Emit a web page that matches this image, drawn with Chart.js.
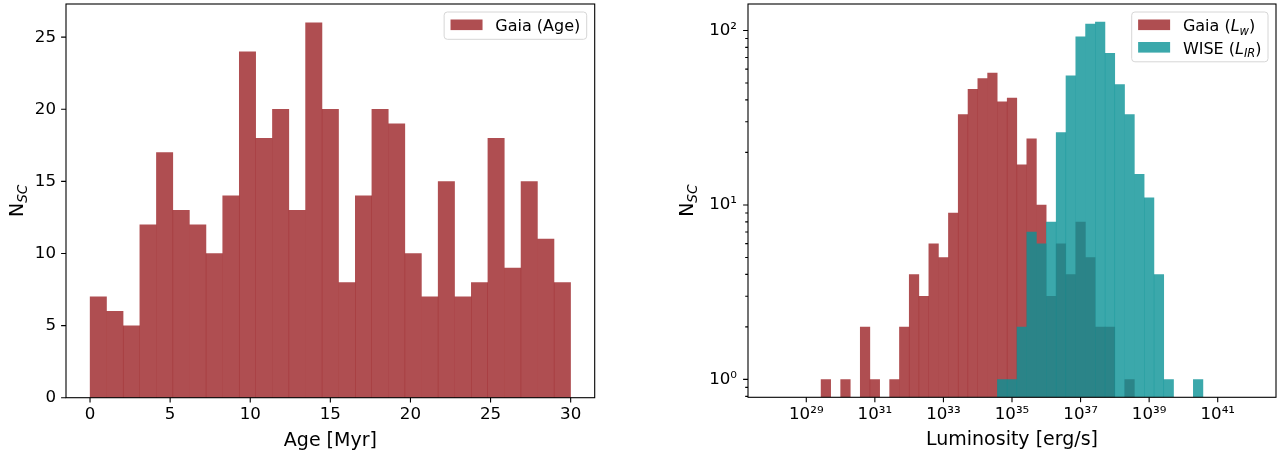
<!DOCTYPE html>
<html lang="en">
<head>
<meta charset="UTF-8">
<title>Star cluster histograms</title>
<script src="https://cdn.jsdelivr.net/npm/chart.js"></script>
<style>
  html, body { margin: 0; padding: 0; background: #fff; }
  #wrap { position: relative; width: 1284px; height: 455px; }
  canvas { position: absolute; top: 0; }
  #ageChart { left: 0; }
  #lumChart { left: 640px; }
</style>
</head>
<body>
<div id="wrap">
  <canvas id="ageChart" width="640" height="455"></canvas>
  <canvas id="lumChart" width="644" height="455"></canvas>
</div>
<script>
// left panel: cluster ages, 29 equal bins between 0 and 30 Myr
var ageRange = [0, 30];
var ageCounts = [7, 6, 5, 12, 17, 13, 12, 10, 14, 24, 18, 20, 13, 26, 20, 8, 14, 20, 19, 10, 7, 15, 7, 8, 18, 9, 15, 11, 8];
var ageTicks = [0, 5, 10, 15, 20, 25, 30];
var countTicks = [0, 5, 10, 15, 20, 25];

// right panel: log10 luminosity, 49 equal bins between 10^28 and 10^42
var lumRange = [28, 42];
var gaiaCounts = [0, 0, 0, 0, 0, 1, 0, 1, 0, 2, 1, 0, 1, 2, 4, 3, 6, 5, 9, 33, 46, 53, 57, 39, 41, 17, 24, 10, 3, 6, 4, 8, 5, 2, 2, 0, 1,
                  0, 0, 0, 0, 0, 0, 0, 0, 0, 0, 0, 0];
var wiseCounts = [0, 0, 0, 0, 0, 0, 0, 0, 0, 0, 0, 0, 0, 0, 0, 0, 0, 0, 0, 0, 0, 0, 0,
                  1, 1, 2, 7, 6, 8, 26, 55, 92, 109, 112, 74, 49, 33, 15, 11, 4, 1, 0, 0, 1,
                  0, 0, 0, 0, 0];
var lumTicks = [29, 31, 33, 35, 37, 39, 41];
var logMajor = [1, 10, 100];
var logMinor = [0.8, 0.9, 2, 3, 4, 5, 6, 7, 8, 9, 20, 30, 40, 50, 60, 70, 80, 90];

var gaiaColor = 'rgba(155, 34, 38, 0.8)';
var wiseColor = 'rgba(10, 146, 150, 0.8)';
var FONT = '"DejaVu Sans"';
var supDigits = '⁰¹²³⁴⁵⁶⁷⁸⁹';

Chart.defaults.font.family = FONT;
Chart.defaults.color = '#000';

function toPoints(range, counts) {
    var w = (range[1] - range[0]) / counts.length;
    var pts = [];
    counts.forEach(function (c, i) {
        if (c > 0) pts.push({ x: range[0] + w * (i + 0.5), y: c });
    });
    return pts;
}

function pow10Label(n) {
    return '10' + String(n).split('').map(function (d) { return supDigits[+d]; }).join('');
}

// text with italic / subscript pieces, drawn on the canvas
function partFont(p, size) {
    return (p.it ? 'italic ' : '') + (p.sub ? size * 0.72 : size) + 'px ' + FONT;
}
function drawRich(ctx, parts, x, y, size, align) {
    var w = 0;
    parts.forEach(function (p) { ctx.font = partFont(p, size); w += ctx.measureText(p.t).width; });
    var cx = align === 'center' ? x - w / 2 : x;
    parts.forEach(function (p) {
        ctx.font = partFont(p, size);
        ctx.fillText(p.t, cx, y + (p.sub ? size * 0.22 : 0));
        cx += ctx.measureText(p.t).width;
    });
    return w;
}
function richWidth(ctx, parts, size) {
    var w = 0;
    parts.forEach(function (p) { ctx.font = partFont(p, size); w += ctx.measureText(p.t).width; });
    return w;
}

// frame, tick marks, axis titles and legend in matplotlib style
var panelDecor = {
    id: 'panelDecor',
    afterDraw: function (chart, args, opts) {
        var ctx = chart.ctx, a = chart.chartArea;
        ctx.save();
        ctx.strokeStyle = '#000';
        ctx.lineWidth = 1.1;
        var xs = chart.scales.x, ys = chart.scales.y;
        ctx.beginPath();
        xs.ticks.forEach(function (t) {
            var px = xs.getPixelForValue(t.value);
            ctx.moveTo(px, a.bottom);
            ctx.lineTo(px, a.bottom + (t.minor ? 2.8 : 4.9));
        });
        ys.ticks.forEach(function (t) {
            var py = ys.getPixelForValue(t.value);
            ctx.moveTo(a.left, py);
            ctx.lineTo(a.left - (t.minor ? 2.8 : 4.9), py);
        });
        ctx.stroke();
        ctx.strokeRect(a.left, a.top, a.right - a.left, a.bottom - a.top);

        ctx.fillStyle = '#000';
        ctx.textBaseline = 'alphabetic';
        drawRich(ctx, opts.xTitle, (a.left + a.right) / 2, a.bottom + 48, 19, 'center');
        ctx.save();
        ctx.translate(a.left - opts.yTitleGap, (a.top + a.bottom) / 2);
        ctx.rotate(-Math.PI / 2);
        drawRich(ctx, opts.yTitle, 0, 0, 19, 'center');
        ctx.restore();

        // legend box
        var fs = 16, pad = 6.4, handle = 32, textPad = 12.8, rowH = 14.5, rowGap = 8;
        var tw = 0;
        opts.legend.forEach(function (it) { tw = Math.max(tw, richWidth(ctx, it.parts, fs)); });
        var bw = pad + handle + textPad + tw + pad;
        var bh = pad * 2 + opts.legend.length * rowH + (opts.legend.length - 1) * rowGap;
        var bx = a.right - 8 - bw, by = a.top + 8;
        ctx.beginPath();
        ctx.roundRect(bx, by, bw, bh, 3.2);
        ctx.fillStyle = 'rgba(255,255,255,0.8)';
        ctx.fill();
        ctx.strokeStyle = '#d6d6d6';
        ctx.lineWidth = 1;
        ctx.stroke();
        opts.legend.forEach(function (it, i) {
            var cy = by + 12.8 + i * (rowH + rowGap);
            ctx.fillStyle = it.color;
            ctx.fillRect(bx + pad, cy - 5.3, handle, 10.6);
            ctx.fillStyle = '#000';
            drawRich(ctx, it.parts, bx + pad + handle + textPad, cy + 6.3, fs, 'left');
        });
        ctx.restore();
    }
};

// order: lower values are painted on top, so WISE covers Gaia
function barSet(label, pts, color, order) {
    return {
        label: label, data: pts, backgroundColor: color, borderWidth: 0, order: order,
        grouped: false, barPercentage: 1, categoryPercentage: 1, inflateAmount: 0.2
    };
}

function fixBox(size, vertical) {
    return function (s) {
        if (vertical) s.width = size; else s.height = size;
        s.paddingTop = s.paddingBottom = s.paddingLeft = s.paddingRight = 0;
    };
}

var tickFont = { size: 16.67 };

new Chart(document.getElementById('ageChart'), {
    type: 'bar',
    data: { datasets: [barSet('Gaia (Age)', toPoints(ageRange, ageCounts), gaiaColor, 0)] },
    options: {
        responsive: false,
        animation: false,
        layout: { padding: { top: 4, right: 45.3, left: 0, bottom: 0 } },
        plugins: {
            legend: { display: false },
            tooltip: { enabled: false },
            panelDecor: {
                xTitle: [{ t: 'Age [Myr]' }],
                yTitle: [{ t: 'N' }, { t: 'SC', it: true, sub: true }],
                yTitleGap: 43.3,
                legend: [{ color: gaiaColor, parts: [{ t: 'Gaia (Age)' }] }]
            }
        },
        scales: {
            x: {
                type: 'linear', min: -1.5, max: 31.5, offset: false,
                grid: { display: false, drawTicks: false, offset: false }, border: { display: false },
                ticks: { padding: 7, autoSkip: false, maxRotation: 0, font: tickFont },
                afterBuildTicks: function (s) { s.ticks = ageTicks.map(function (v) { return { value: v }; }); },
                afterFit: fixBox(57.3, false)
            },
            y: {
                type: 'linear', min: 0, max: 27.3,
                grid: { display: false, drawTicks: false }, border: { display: false },
                ticks: { padding: 10, autoSkip: false, font: tickFont },
                afterBuildTicks: function (s) { s.ticks = countTicks.map(function (v) { return { value: v }; }); },
                afterFit: fixBox(66, true)
            }
        }
    },
    plugins: [panelDecor]
});

var lumTop = Math.log10(Math.max.apply(null, gaiaCounts.concat(wiseCounts)));

new Chart(document.getElementById('lumChart'), {
    type: 'bar',
    data: {
        datasets: [
            barSet('Gaia (Lw)', toPoints(lumRange, gaiaCounts), gaiaColor, 1),
            barSet('WISE (LIR)', toPoints(lumRange, wiseCounts), wiseColor, 0)
        ]
    },
    options: {
        responsive: false,
        animation: false,
        layout: { padding: { top: 4, right: 8, left: 0, bottom: 0 } },
        plugins: {
            legend: { display: false },
            tooltip: { enabled: false },
            panelDecor: {
                xTitle: [{ t: 'Luminosity [erg/s]' }],
                yTitle: [{ t: 'N' }, { t: 'SC', it: true, sub: true }],
                yTitleGap: 54.7,
                legend: [
                    { color: gaiaColor, parts: [{ t: 'Gaia (' }, { t: 'L', it: true }, { t: 'w', it: true, sub: true }, { t: ')' }] },
                    { color: wiseColor, parts: [{ t: 'WISE (' }, { t: 'L', it: true }, { t: 'IR', it: true, sub: true }, { t: ')' }] }
                ]
            }
        },
        scales: {
            x: {
                type: 'linear', min: 27.3, max: 42.7, offset: false,
                grid: { display: false, drawTicks: false, offset: false }, border: { display: false },
                ticks: {
                    padding: 7, autoSkip: false, maxRotation: 0, font: tickFont,
                    callback: function (v) { return pow10Label(v); }
                },
                afterBuildTicks: function (s) { s.ticks = lumTicks.map(function (v) { return { value: v }; }); },
                afterFit: fixBox(57.7, false)
            },
            y: {
                type: 'logarithmic',
                min: Math.pow(10, -0.05 * lumTop), max: Math.pow(10, 1.05 * lumTop),
                grid: { display: false, drawTicks: false }, border: { display: false },
                ticks: {
                    padding: 11, autoSkip: false, font: tickFont,
                    callback: function (v) {
                        var i = logMajor.indexOf(v);
                        return i < 0 ? '' : pow10Label(i);
                    }
                },
                afterBuildTicks: function (s) {
                    var t = logMajor.map(function (v) { return { value: v }; })
                        .concat(logMinor.map(function (v) { return { value: v, minor: true }; }));
                    t.sort(function (p, q) { return p.value - q.value; });
                    s.ticks = t;
                },
                afterFit: fixBox(108, true)
            }
        }
    },
    plugins: [panelDecor]
});
</script>
</body>
</html>
